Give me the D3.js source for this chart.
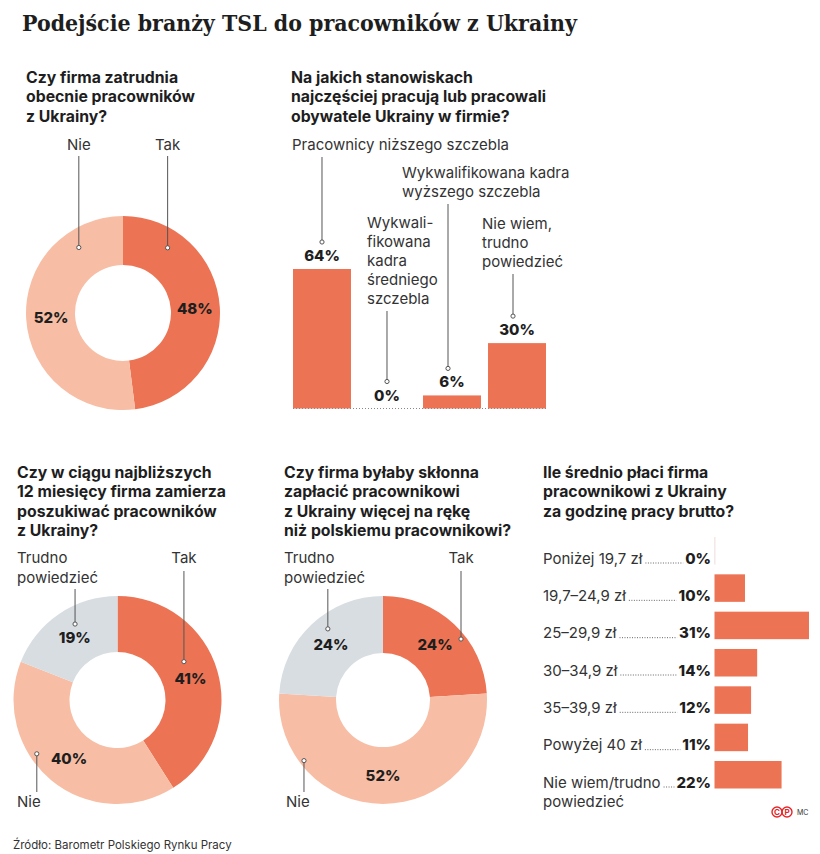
<!DOCTYPE html>
<html>
<head>
<meta charset="utf-8">
<script src="https://cdn.jsdelivr.net/npm/d3@7"></script>
<style>
  body { margin: 0; background: #fff; }
  svg { display: block; font-family: Inter, "Open Sans", sans-serif; }
  .sub { font-weight: 700; font-size: 15.8px; fill: #1e1e1e; }
  .lab { font-size: 15px; fill: #333; }
  .pct { font-weight: 800; font-size: 15px; fill: #1e1e1e; }
</style>
</head>
<body>
<svg id="chart"></svg>
<script>
var tytul = "Podejście branży TSL do pracowników z Ukrainy";
var zrodlo = "Źródło: Barometr Polskiego Rynku Pracy";

// pytanie 1
var p1Pytanie = ["Czy firma zatrudnia", "obecnie pracowników", "z Ukrainy?"];
var p1Kategorie = ["Tak", "Nie"];
var p1Wartosci = [48, 52];

// pytanie 2 (słupki)
var p2Pytanie = ["Na jakich stanowiskach", "najczęściej pracują lub pracowali", "obywatele Ukrainy w firmie?"];
var p2Kategorie = [
  ["Pracownicy niższego szczebla"],
  ["Wykwali-", "fikowana", "kadra", "średniego", "szczebla"],
  ["Wykwalifikowana kadra", "wyższego szczebla"],
  ["Nie wiem,", "trudno", "powiedzieć"]
];
var p2Wartosci = [64, 0, 6, 30];

// pytanie 3
var p3Pytanie = ["Czy w ciągu najbliższych", "12 miesięcy firma zamierza", "poszukiwać pracowników", "z Ukrainy?"];
var p3Kategorie = ["Tak", "Nie", "Trudno powiedzieć"];
var p3Wartosci = [41, 40, 19];

// pytanie 4
var p4Pytanie = ["Czy firma byłaby skłonna", "zapłacić pracownikowi", "z Ukrainy więcej na rękę", "niż polskiemu pracownikowi?"];
var p4Kategorie = ["Tak", "Nie", "Trudno powiedzieć"];
var p4Wartosci = [24, 52, 24];

// pytanie 5 (słupki poziome)
var p5Pytanie = ["Ile średnio płaci firma", "pracownikowi z Ukrainy", "za godzinę pracy brutto?"];
var p5Kategorie = ["Poniżej 19,7 zł", "19,7–24,9 zł", "25–29,9 zł", "30–34,9 zł", "35–39,9 zł", "Powyżej 40 zł", "Nie wiem/trudno|powiedzieć"];
var p5Wartosci = [0, 10, 31, 14, 12, 11, 22];

// kolory
var kolory = { "Tak": "#ec7454", "Nie": "#f7bea5", "Trudno powiedzieć": "#d8dde2" };
var pomaranczowy = "#ec7454";
var linia = "#555";

var svgWidth = 820, svgHeight = 854;
var svg = d3.select("#chart").attr("width", svgWidth).attr("height", svgHeight);

// tytuł
svg.append("text")
  .attr("x", 22).attr("y", 31)
  .attr("textLength", 555).attr("lengthAdjust", "spacingAndGlyphs")
  .style("font-family", "'DejaVu Serif', 'Liberation Serif', serif")
  .style("font-weight", 700).style("font-size", "23px").style("fill", "#1e1e1e")
  .text(tytul);

// źródło
svg.append("text")
  .attr("x", 13).attr("y", 849)
  .style("font-size", "11.5px").style("fill", "#333")
  .text(zrodlo);

// logo
var logo = svg.append("g").attr("transform", "translate(777,812)");
["C", "P"].forEach(function (l, i) {
  logo.append("circle").attr("cx", i * 10).attr("r", 5).attr("fill", "none").attr("stroke", "#e3262b").attr("stroke-width", 1.4);
  logo.append("text").attr("x", i * 10).attr("y", 3).attr("text-anchor", "middle")
    .style("font-size", "8px").style("font-weight", 700).style("fill", "#e3262b").text(l);
});
logo.append("text").attr("x", 20).attr("y", 3).style("font-size", "7px").style("fill", "#333").text("MC");

// pomocnicza funkcja - pytanie w kilku liniach
function pytanie(linie, x, y) {
  var t = svg.append("text").attr("class", "sub");
  linie.forEach(function (l, i) {
    t.append("tspan").attr("x", x).attr("y", y + i * 19.3).text(l);
  });
}

function kropka(x, y) {
  svg.append("circle").attr("cx", x).attr("cy", y).attr("r", 2.1)
    .attr("fill", "#fff").attr("stroke", linia).attr("stroke-width", 1);
}

function wieloliniowy(linie, x, y, anchor, krok) {
  var t = svg.append("text").attr("class", "lab").attr("text-anchor", anchor || "start");
  linie.forEach(function (l, i) {
    t.append("tspan").attr("x", x).attr("y", y + i * (krok || 20)).text(l);
  });
}

// donut - opis: kąt i promień kropki, pozycja podpisu
function donut(kategorie, wartosci, cx, cy, rIn, rOut, opisy) {
  var dane = kategorie.map(function (k, i) { return { k: k, v: wartosci[i] }; });
  var pie = d3.pie().sort(null).value(function (d) { return d.v; });
  var arc = d3.arc().innerRadius(rIn).outerRadius(rOut);
  var arcLab = d3.arc().innerRadius(76).outerRadius(76);
  if (rOut < 100) arcLab = d3.arc().innerRadius(72).outerRadius(72);
  var g = svg.append("g").attr("transform", "translate(" + cx + "," + cy + ")");
  var luki = pie(dane);
  g.selectAll("path").data(luki).enter().append("path")
    .attr("d", arc)
    .attr("fill", function (d) { return kolory[d.data.k]; });
  g.selectAll("text").data(luki).enter().append("text")
    .attr("class", "pct")
    .attr("text-anchor", "middle")
    .attr("dy", "0.36em")
    .attr("transform", function (d) { return "translate(" + arcLab.centroid(d) + ")"; })
    .text(function (d) { return d.data.v + "%"; });

  opisy.forEach(function (o) {
    var a = o.kat * Math.PI / 180;
    var dx = cx + o.r * Math.sin(a), dy = cy - o.r * Math.cos(a);
    svg.append("line").attr("x1", dx).attr("x2", dx).attr("y1", dy).attr("y2", o.koniec)
      .attr("stroke", linia).attr("stroke-width", 1);
    kropka(dx, dy);
    var tx = o.anchor === "middle" ? dx : o.tx;
    wieloliniowy(o.tekst, tx, o.ty, o.anchor, 20);
  });
}

// --- wykres 1
pytanie(p1Pytanie, 26, 83);
donut(p1Kategorie, p1Wartosci, 123, 313, 48, 97, [
  { kat: 34.4, r: 79, koniec: 156, tekst: ["Tak"], ty: 150, anchor: "middle" },
  { kat: -34.0, r: 79, koniec: 156, tekst: ["Nie"], ty: 150, anchor: "middle" }
]);

// --- wykres 3
pytanie(p3Pytanie, 17, 478);
donut(p3Kategorie, p3Wartosci, 117.5, 700, 48, 104, [
  { kat: 60, r: 76.7, koniec: 571, tekst: ["Tak"], ty: 563, anchor: "middle" },
  { kat: 330.8, r: 87, koniec: 589, tekst: ["Trudno", "powiedzieć"], ty: 563, anchor: "start", tx: 17 },
  { kat: 236.3, r: 97, koniec: 792, tekst: ["Nie"], ty: 807, anchor: "start", tx: 17 }
]);

// --- wykres 4
pytanie(p4Pytanie, 284, 478);
donut(p4Kategorie, p4Wartosci, 383, 700, 47, 104, [
  { kat: 52, r: 99, koniec: 571, tekst: ["Tak"], ty: 563, anchor: "middle" },
  { kat: 322.2, r: 90, koniec: 589, tekst: ["Trudno", "powiedzieć"], ty: 563, anchor: "start", tx: 284 },
  { kat: 232.5, r: 99.6, koniec: 792, tekst: ["Nie"], ty: 807, anchor: "start", tx: 286 }
]);

// --- wykres 2 (słupki pionowe)
pytanie(p2Pytanie, 291, 83);
var xBand = d3.scaleBand()
  .domain(d3.range(p2Wartosci.length))
  .range([293, 546])
  .paddingInner(0.108).paddingOuter(0);
var yLin = d3.scaleLinear().domain([0, 64]).range([408.5, 269]);

svg.selectAll("rect.b2").data(p2Wartosci).enter().append("rect")
  .attr("class", "b2")
  .attr("x", function (d, i) { return xBand(i); })
  .attr("y", function (d) { return yLin(d); })
  .attr("width", xBand.bandwidth())
  .attr("height", function (d) { return yLin(0) - yLin(d); })
  .attr("fill", pomaranczowy);

svg.append("line")
  .attr("x1", 293).attr("x2", 546).attr("y1", yLin(0)).attr("y2", yLin(0))
  .attr("stroke", "#888").attr("stroke-width", 1).attr("stroke-dasharray", "1,2");

svg.selectAll("text.v2").data(p2Wartosci).enter().append("text")
  .attr("class", "pct v2")
  .attr("text-anchor", "middle")
  .attr("x", function (d, i) { return xBand(i) + xBand.bandwidth() / 2; })
  .attr("y", function (d) { return yLin(d) - 8; })
  .text(function (d) { return d + "%"; });

// podpisy kategorii nad słupkami
var p2TekstX = [292, 367, 402, 482];
var p2TekstY = [150, 228, 178, 229];
p2Kategorie.forEach(function (linie, i) {
  wieloliniowy(linie, p2TekstX[i], p2TekstY[i], "start", 19);
  var lx = xBand(i) + xBand.bandwidth() / 2 - (i >= 2 ? 4 : 0);
  var gora = p2TekstY[i] + (linie.length - 1) * 19 + 7;
  var dol = yLin(p2Wartosci[i]) - 27;
  svg.append("line").attr("x1", lx).attr("x2", lx).attr("y1", gora).attr("y2", dol)
    .attr("stroke", linia).attr("stroke-width", 1);
  kropka(lx, dol);
});

// --- wykres 5 (słupki poziome)
pytanie(p5Pytanie, 543, 478);
var yBand = d3.scaleBand()
  .domain(d3.range(p5Wartosci.length))
  .range([537, 788.5])
  .paddingInner(0.263).paddingOuter(0);
var xLin = d3.scaleLinear().domain([0, 31]).range([714.5, 809]);

svg.selectAll("rect.b5").data(p5Wartosci).enter().append("rect")
  .attr("class", "b5")
  .attr("x", xLin(0))
  .attr("y", function (d, i) { return yBand(i); })
  .attr("width", function (d) { return d === 0 ? 0.8 : xLin(d) - xLin(0); })
  .attr("height", yBand.bandwidth())
  .attr("fill", function (d) { return d === 0 ? "#e6d6d0" : pomaranczowy; });

p5Kategorie.forEach(function (k, i) {
  var linie = k.split("|");
  var y = yBand(i) + yBand.bandwidth() - 1;
  var t = svg.append("text").attr("class", "lab").attr("x", 543).attr("y", y).text(linie[0]);
  var w = t.node().getComputedTextLength();
  var p = svg.append("text").attr("class", "pct").attr("x", 711).attr("y", y)
    .attr("text-anchor", "end").text(p5Wartosci[i] + "%");
  var pw = p.node().getComputedTextLength();
  svg.append("line")
    .attr("x1", 543 + w + 3).attr("x2", 711 - pw - 2)
    .attr("y1", y - 0.5).attr("y2", y - 0.5)
    .attr("stroke", "#666").attr("stroke-width", 1).attr("stroke-dasharray", "1,1.5");
  if (linie.length > 1) {
    svg.append("text").attr("class", "lab").attr("x", 543).attr("y", y + 19).text(linie[1]);
  }
});
</script>
</body>
</html>
